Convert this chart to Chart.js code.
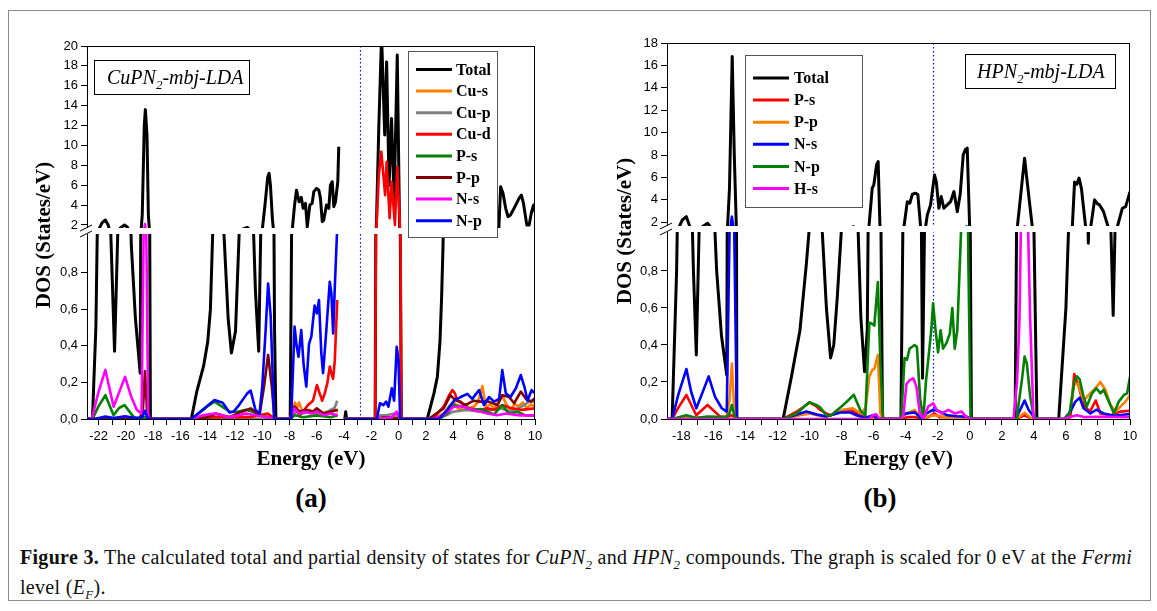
<!DOCTYPE html>
<html>
<head>
<meta charset="utf-8">
<script src="https://cdn.jsdelivr.net/npm/chart.js@4.4.1/dist/chart.umd.min.js"></script>
<style>
body { margin:0; background:#fff; width:1157px; height:611px; position:relative; overflow:hidden; }
#frame { position:absolute; left:8px; top:10px; width:1141px; height:589px; border:1px solid #8c8c8c; }
#wrapA { position:absolute; left:0; top:0; }
#wrapB { position:absolute; left:580px; top:0; }
.tag { position:absolute; top:483px; width:120px; text-align:center; font:bold 27px "Liberation Serif", serif; color:#000; }
#cap { position:absolute; left:20px; top:546px; font:20px "Liberation Serif", serif; letter-spacing:0.3px; line-height:22px; color:#111; white-space:nowrap; }
#cap sub { font-size:13px; }
</style>
</head>
<body>
<div id="frame"></div>
<div id="wrapA"><canvas id="dosA" width="580" height="480"></canvas></div>
<div id="wrapB"><canvas id="dosB" width="577" height="480"></canvas></div>
<div class="tag" style="left:251px">(a)</div>
<div class="tag" style="left:820px">(b)</div>
<div id="cap"><b>Figure 3.</b> The calculated total and partial density of states for <i>CuPN<sub>2</sub></i> and <i>HPN<sub>2</sub></i> compounds. The graph is scaled for 0 eV at the <i>Fermi</i><br>level (<i>E<sub>F</sub></i>).</div>
<script>
// ---- panel (a) CuPN2 : [energy eV, DOS] ----
const totalA = [[-22.85,0],[-22.45,0],[-22.2,0.5],[-22.0,1.5],[-21.75,2.2],[-21.5,2.5],[-21.3,2.0],[-21.1,1.0],[-20.83,0.37],[-20.6,1.0],[-20.4,1.7],[-20.1,2.0],[-19.9,1.8],[-19.6,0.95],[-19.3,0.55],[-18.95,0.25],[-18.8,3],[-18.65,12],[-18.57,13.6],[-18.45,11],[-18.35,3],[-18.2,0],[-15.2,0],[-14.8,0.15],[-14.3,0.29],[-14.0,0.42],[-13.8,0.6],[-13.6,1.1],[-13.2,1.3],[-12.8,1.0],[-12.5,0.55],[-12.26,0.36],[-11.96,0.48],[-11.7,1.0],[-11.4,1.6],[-11.1,1.75],[-10.8,1.4],[-10.5,0.7],[-10.26,0.37],[-10.0,1.5],[-9.8,4.0],[-9.6,6.8],[-9.5,7.2],[-9.4,6.0],[-9.25,2.5],[-9.1,0.5],[-9.0,0],[-7.95,0],[-7.8,1.5],[-7.63,4.0],[-7.49,5.5],[-7.3,4.33],[-7.14,4.78],[-7.0,3.67],[-6.83,4.17],[-6.7,1.8],[-6.51,4.0],[-6.34,4.17],[-6.22,5.34],[-6.02,5.68],[-5.85,5.5],[-5.73,4.67],[-5.6,2.33],[-5.49,2.5],[-5.29,4.0],[-5.12,3.67],[-5.0,6.0],[-4.87,6.35],[-4.75,3.84],[-4.63,4.33],[-4.46,6.35],[-4.39,9.87],[-4.3,null],[-3.95,0],[-3.88,0.04],[-3.82,0],[-1.72,0],[-1.63,2],[-1.45,12],[-1.25,21],[-1.02,11.05],[-0.88,18.4],[-0.7,6.0],[-0.52,12.7],[-0.33,4.33],[-0.1,19.1],[0.07,1.7],[0.2,0],[2.1,0],[2.59,0.14],[2.84,0.23],[3.03,0.42],[3.15,0.66],[3.25,0.93],[3.35,1.3],[3.6,2.5],[4.0,3.5],[4.5,4.2],[5.0,4.0],[5.5,4.5],[6.0,4.2],[6.5,3.8],[7.0,4.0],[7.35,1.7],[7.48,5.85],[7.65,5.2],[7.85,3.67],[8.02,2.83],[8.2,3.0],[8.46,3.67],[8.83,4.67],[9.0,5.0],[9.15,4.2],[9.4,2.0],[9.57,2.0],[9.75,3.34],[9.9,4.0],[10,3.3]];
const cuS = [[-22.85,0],[-19,0],[-18.6,0.01],[-18.2,0],[-15.2,0],[-13.5,0.01],[-11,0.01],[-9.6,0.02],[-9.0,0],[-7.95,0],[-7.75,0.06],[-7.6,0.09],[-7.45,0.06],[-7.3,0.09],[-7.1,0.05],[-6.8,0.04],[-6.5,0.05],[-6.2,0.03],[-5.9,0.05],[-5.6,0.03],[-5.3,0.04],[-5.0,0.03],[-4.7,0.05],[-4.46,0.04],[-4.4,null],[-3.95,0],[-1.75,0],[-1.2,0.01],[-0.5,0.01],[0.2,0],[2.5,0],[3.3,0.03],[3.7,0.07],[4.06,0.095],[4.3,0.06],[4.55,0.05],[4.9,0.08],[5.2,0.06],[5.5,0.067],[5.8,0.09],[6.14,0.18],[6.4,0.067],[6.7,0.08],[7.0,0.06],[7.3,0.09],[7.6,0.13],[7.9,0.08],[8.2,0.05],[8.5,0.08],[8.8,0.07],[9.1,0.09],[9.4,0.06],[9.7,0.08],[10,0.067]];
const cuP = [[-22.85,0],[-7.95,0],[-7.7,0.03],[-7.4,0.04],[-7.0,0.03],[-6.6,0.04],[-6.2,0.03],[-5.8,0.04],[-5.4,0.03],[-5.0,0.05],[-4.7,0.06],[-4.5,0.1],[-4.46,0.1],[-4.4,null],[-3.95,0],[-1.75,0],[-1.4,0.02],[-0.9,0.02],[-0.3,0.03],[0.2,0],[2.5,0],[3.5,0.02],[4.0,0.04],[5.0,0.05],[6.0,0.04],[6.8,0.05],[7.5,0.058],[8.2,0.04],[9.0,0.067],[9.7,0.10],[10,0.09]];
const cuD = [[-22.85,0],[-18.8,0],[-18.6,0.01],[-18.4,0],[-15.2,0],[-13.5,0.01],[-11,0.01],[-9.6,0.03],[-9.0,0],[-7.95,0],[-7.63,0.067],[-7.26,0.02],[-6.9,0.05],[-6.65,0.076],[-6.28,0.10],[-5.99,0.186],[-5.79,0.14],[-5.6,0.10],[-5.42,0.14],[-5.23,0.195],[-5.05,0.286],[-4.93,0.25],[-4.8,0.22],[-4.68,0.32],[-4.5,0.65],[-4.46,0.65],[-4.4,null],[-3.95,0],[-1.72,0],[-1.63,1.7],[-1.45,7],[-1.27,9.37],[-0.99,5.0],[-0.88,8.36],[-0.66,2.67],[-0.52,6.35],[-0.27,2.0],[-0.1,7.85],[0.1,1.7],[0.19,0],[2.2,0],[2.6,0.01],[3.3,0.067],[3.7,0.13],[3.94,0.158],[4.13,0.14],[4.3,0.10],[4.55,0.095],[5.04,0.058],[5.5,0.055],[6.0,0.05],[6.5,0.058],[7.0,0.05],[7.6,0.076],[8.2,0.06],[9.0,0.05],[10,0.058]];
const pSA = [[-22.85,0],[-22.45,0],[-22.0,0.07],[-21.5,0.13],[-20.9,0.02],[-20.5,0.06],[-20.1,0.076],[-19.45,0.013],[-19.0,0],[-18.6,0.01],[-18.2,0],[-15.2,0],[-14.5,0.04],[-14.0,0.07],[-13.5,0.095],[-13.0,0.07],[-12.4,0.04],[-11.8,0.04],[-11.2,0.05],[-10.7,0.04],[-10.2,0.02],[-9.6,0.01],[-9.0,0],[-7.95,0],[-7.6,0.02],[-7.0,0.01],[-6.0,0.02],[-5.0,0.01],[-4.46,0.02],[-4.4,null],[-3.95,0],[-1.75,0],[-0.5,0.01],[0.2,0],[2.6,0],[3.2,0.01],[3.57,0.03],[4.06,0.076],[4.8,0.067],[5.5,0.05],[6.0,0.055],[6.5,0.04],[7.0,0.025],[7.6,0.076],[8.1,0.03],[8.7,0.04],[9.3,0.02],[10,0.02]];
const pPA = [[-22.85,0],[-19,0],[-18.75,0.05],[-18.6,0.26],[-18.45,0.05],[-18.2,0],[-15.2,0],[-14.0,0.01],[-13.4,0.03],[-12.4,0.01],[-11.5,0.04],[-10.85,0.058],[-10.2,0.02],[-9.87,0.177],[-9.57,0.35],[-9.3,0.177],[-9.1,0],[-7.95,0],[-7.63,0.067],[-7.26,0.04],[-6.8,0.05],[-6.3,0.04],[-6.0,0.058],[-5.5,0.03],[-5.0,0.04],[-4.46,0.05],[-4.4,null],[-3.95,0],[-1.75,0],[-1.0,0.01],[0.2,0],[2.2,0],[3.3,0.058],[3.8,0.13],[4.06,0.11],[4.43,0.095],[4.9,0.076],[5.5,0.10],[6.0,0.095],[6.6,0.095],[7.25,0.076],[7.6,0.13],[8.1,0.12],[8.47,0.086],[8.96,0.15],[9.33,0.11],[9.7,0.095],[10,0.113]];
const nSA = [[-22.85,0],[-22.5,0],[-22.0,0.15],[-21.5,0.268],[-20.9,0.067],[-20.06,0.23],[-19.6,0.12],[-19.2,0.05],[-18.85,0.03],[-18.7,1.0],[-18.6,2.1],[-18.5,1.0],[-18.36,0],[-15.2,0],[-14.35,0.02],[-13.5,0.03],[-12.4,0.01],[-11.2,0.03],[-10.5,0.02],[-9.6,0.01],[-9.0,0],[-7.95,0],[-7.63,0.058],[-7.3,0.03],[-6.9,0.04],[-6.4,0.03],[-6.0,0.04],[-5.5,0.02],[-5.0,0.03],[-4.46,0.02],[-4.4,null],[-3.95,0],[-1.75,0],[-0.5,0.01],[-0.14,0.04],[0.1,0],[2.5,0],[3.3,0.02],[3.57,0.04],[4.06,0.067],[4.55,0.07],[5.5,0.05],[6.5,0.03],[7.2,0.02],[7.9,0.03],[8.9,0.02],[10,0.02]];
const nPA = [[-22.85,0],[-22.3,0],[-21.5,0.013],[-20.9,0.005],[-20.06,0.015],[-19.3,0.005],[-18.8,0.01],[-18.6,0.045],[-18.4,0.005],[-18.2,0],[-15.2,0],[-14.1,0.067],[-13.5,0.104],[-12.9,0.089],[-12.4,0.035],[-12.1,0.04],[-11.7,0.076],[-11.1,0.14],[-10.85,0.155],[-10.5,0.05],[-10.2,0.03],[-10.0,0.177],[-9.74,0.5],[-9.57,0.74],[-9.38,0.56],[-9.13,0],[-7.88,0],[-7.63,0.505],[-7.48,0.40],[-7.34,0.34],[-7.14,0.486],[-6.97,0.30],[-6.77,0.177],[-6.57,0.41],[-6.4,0.45],[-6.16,0.62],[-5.99,0.577],[-5.84,0.65],[-5.67,0.36],[-5.54,0.25],[-5.3,0.486],[-5.05,0.75],[-4.93,0.687],[-4.8,0.468],[-4.68,0.72],[-4.5,1.05],[-4.46,1.2],[-4.4,null],[-3.95,0],[-1.6,0],[-1.37,0.086],[-1.12,0.076],[-0.92,0.095],[-0.75,0.067],[-0.5,0.168],[-0.33,0.10],[-0.14,0.395],[-0.01,0.32],[0.11,0],[2.9,0],[3.08,0.01],[3.57,0.05],[4.06,0.10],[4.55,0.12],[5.04,0.137],[5.4,0.11],[5.9,0.158],[6.26,0.076],[6.63,0.12],[7.0,0.095],[7.37,0.11],[7.6,0.267],[7.86,0.14],[8.2,0.12],[8.6,0.168],[8.96,0.24],[9.25,0.168],[9.45,0.10],[9.75,0.158],[10,0.14]];
const namesA = ['Total', 'Cu-s', 'Cu-p', 'Cu-d', 'P-s', 'P-p', 'N-s', 'N-p'];
const colorsA = ['#000000', '#ff8000', '#808080', '#ff0000', '#008000', '#800000', '#ff00ff', '#0000ff'];
const fermiA = -2.8;
const xLabelsA = [-22, -20, -18, -16, -14, -12, -10, -8, -6, -4, -2, 0, 2, 4, 6, 8, 10];
const yUpperA = [2, 4, 6, 8, 10, 12, 14, 16, 18, 20];

// ---- panel (b) HPN2 ----
const totalB = [[-18.9,0],[-18.58,0],[-18.3,0.8],[-18.17,1.5],[-17.95,2.2],[-17.69,2.5],[-17.45,1.5],[-17.25,0.8],[-17.07,0.346],[-16.9,1.0],[-16.7,1.6],[-16.36,1.91],[-16.1,1.4],[-15.8,0.8],[-15.5,0.45],[-15.17,0.238],[-15.0,5],[-14.83,16.8],[-14.7,8],[-14.54,0],[-11.65,0],[-11.13,0.23],[-10.6,0.48],[-10.2,0.84],[-10.0,1.05],[-9.6,1.3],[-9.2,1.0],[-8.95,0.6],[-8.69,0.33],[-8.49,0.4],[-8.27,0.66],[-7.96,1.1],[-7.5,1.45],[-7.24,1.6],[-7.0,1.1],[-6.8,0.55],[-6.57,0.256],[-6.4,0.48],[-6.3,1.5],[-6.09,5.04],[-5.99,5.34],[-5.82,7.12],[-5.72,7.42],[-5.61,1.76],[-5.45,0],[-4.3,0],[-4.11,1.6],[-3.9,3.84],[-3.74,3.7],[-3.59,4.5],[-3.38,4.6],[-3.24,4.45],[-3.07,1.6],[-2.95,0.22],[-2.8,1.2],[-2.65,2.66],[-2.45,3.55],[-2.2,6.23],[-2.09,5.6],[-1.93,3.25],[-1.78,4.3],[-1.62,3.25],[-1.41,3.55],[-1.2,3.84],[-0.99,4.74],[-0.78,2.95],[-0.6,4.5],[-0.41,8.02],[-0.27,8.5],[-0.16,8.62],[-0.01,1.6],[0.1,0],[2.83,0],[2.97,1.6],[3.22,5.0],[3.42,7.72],[3.63,5.0],[3.9,1.6],[4.19,0],[5.55,0],[6.0,0.6],[6.27,1.3],[6.4,1.6],[6.54,5.6],[6.68,5.4],[6.82,5.94],[6.97,5.0],[7.23,1.6],[7.4,0.95],[7.55,1.6],[7.79,4.0],[7.96,3.66],[8.1,3.55],[8.35,2.95],[8.63,1.6],[8.95,0.56],[9.21,1.6],[9.52,3.25],[9.73,3.4],[10,4.74]];
const pSB = [[-18.9,0],[-18.58,0],[-18.2,0.06],[-17.69,0.13],[-17.07,0.02],[-16.37,0.076],[-15.58,0.013],[-15.2,0.01],[-14.85,0.02],[-14.54,0],[-11.65,0],[-10.8,0.04],[-10.3,0.07],[-10.0,0.09],[-9.6,0.07],[-9.34,0.049],[-8.96,0.03],[-8.69,0.02],[-8.07,0.04],[-7.45,0.05],[-6.93,0.025],[-6.6,0.01],[-6.0,0.01],[-5.5,0],[-4.3,0],[-3.9,0.01],[-3.4,0.01],[-3.0,0],[-2.6,0.01],[-2.2,0.03],[-1.9,0.01],[-1.3,0.01],[-0.5,0.01],[0.1,0],[2.9,0],[3.4,0.02],[3.9,0],[5.9,0],[6.28,0.01],[6.52,0.243],[6.8,0.175],[7.1,0.076],[7.5,0.04],[7.86,0.10],[8.15,0.03],[8.78,0.02],[9.4,0.04],[10,0.045]];
const pPB = [[-18.9,0],[-18.58,0],[-17.69,0.01],[-16.4,0.008],[-15.2,0.01],[-15.0,0.1],[-14.85,0.30],[-14.7,0.05],[-14.54,0],[-11.65,0],[-10.6,0.02],[-10.0,0.03],[-9.0,0.01],[-7.92,0.05],[-7.3,0.058],[-6.82,0.03],[-6.5,0.06],[-6.27,0.23],[-6.09,0.265],[-5.96,0.27],[-5.74,0.346],[-5.58,0.03],[-5.45,0],[-4.3,0],[-4.0,0.03],[-3.7,0.04],[-3.43,0.049],[-3.1,0.01],[-2.9,0],[-2.6,0.015],[-2.2,0.02],[-1.5,0.01],[-0.5,0.01],[0.1,0],[2.9,0],[3.42,0.034],[3.9,0],[5.9,0],[6.23,0.03],[6.52,0.19],[6.75,0.19],[7.1,0.10],[7.53,0.14],[7.84,0.166],[8.15,0.2],[8.47,0.157],[8.78,0.076],[9.1,0.04],[9.4,0.067],[9.72,0.094],[10,0.13]];
const nSB = [[-18.9,0],[-18.58,0],[-18.2,0.13],[-17.69,0.27],[-17.4,0.15],[-17.07,0.058],[-16.7,0.14],[-16.3,0.23],[-15.9,0.12],[-15.48,0.058],[-15.17,0.04],[-15.0,1.0],[-14.85,2.5],[-14.7,1.0],[-14.54,0],[-11.65,0],[-10.6,0.03],[-10.2,0.04],[-9.58,0.025],[-8.96,0.013],[-8.07,0.035],[-7.45,0.035],[-7.08,0.02],[-6.5,0.005],[-6.05,0.02],[-5.85,0.01],[-5.5,0],[-4.3,0],[-4.27,0.02],[-3.95,0.03],[-3.43,0.036],[-3.0,0],[-2.7,0.03],[-2.28,0.05],[-1.87,0.04],[-1.4,0.02],[-0.8,0.015],[-0.2,0.013],[0.1,0],[2.9,0],[2.94,0.013],[3.42,0.10],[3.67,0.05],[3.98,0.013],[4.2,0],[5.9,0],[6.28,0.04],[6.59,0.094],[6.86,0.115],[7.1,0.058],[7.53,0.03],[7.9,0.05],[8.36,0.03],[9.0,0.018],[10,0.027]];
const nPB = [[-18.9,0],[-18.58,0],[-17.69,0.02],[-17.07,0.005],[-16.37,0.013],[-15.2,0.01],[-15.0,0.03],[-14.85,0.076],[-14.7,0.02],[-14.54,0],[-11.65,0],[-10.8,0.03],[-10.3,0.07],[-10.0,0.09],[-9.58,0.076],[-9.34,0.063],[-8.96,0.02],[-8.69,0.018],[-8.07,0.063],[-7.6,0.1],[-7.24,0.131],[-6.82,0.045],[-6.52,0.018],[-6.27,0.52],[-6.1,0.515],[-5.96,0.505],[-5.74,0.74],[-5.58,0.30],[-5.41,0],[-4.28,0],[-4.07,0.33],[-3.92,0.32],[-3.76,0.38],[-3.45,0.40],[-3.3,0.39],[-3.1,0.11],[-2.9,0.0],[-2.74,0.2],[-2.57,0.34],[-2.4,0.485],[-2.29,0.625],[-2.15,0.49],[-1.98,0.36],[-1.82,0.48],[-1.67,0.38],[-1.46,0.41],[-1.25,0.46],[-1.09,0.6],[-0.94,0.38],[-0.78,0.48],[-0.53,1.05],[-0.35,1.5],[-0.2,1.65],[-0.08,0.8],[0.05,0],[2.9,0],[2.94,0.013],[3.25,0.21],[3.42,0.337],[3.56,0.30],[3.77,0.12],[3.98,0.02],[4.2,0],[5.9,0],[6.23,0.03],[6.52,0.2],[6.69,0.23],[6.86,0.214],[7.1,0.12],[7.3,0.067],[7.63,0.139],[7.9,0.166],[8.15,0.139],[8.36,0.157],[8.68,0.094],[9.0,0.03],[9.3,0.094],[9.62,0.13],[9.82,0.139],[10,0.229]];
const hSB = [[-18.9,0],[-6.3,0],[-6.06,0.02],[-5.85,0.025],[-5.6,0],[-4.3,0],[-4.15,0.02],[-3.95,0.19],[-3.75,0.21],[-3.53,0.22],[-3.33,0.175],[-3.12,0.03],[-2.9,0],[-2.6,0.067],[-2.28,0.085],[-2.07,0.049],[-1.76,0.03],[-1.34,0.049],[-0.93,0.03],[-0.51,0.04],[-0.2,0.01],[0.0,0],[2.73,0],[2.95,0.2],[3.1,0.535],[3.2,1.1],[3.42,1.65],[3.62,1.1],[3.77,0.535],[3.98,0],[5.9,0],[6.2,0.01],[6.69,0.02],[7.2,0.01],[8.0,0.012],[10,0.01]];
const namesB = ['Total', 'P-s', 'P-p', 'N-s', 'N-p', 'H-s'];
const colorsB = ['#000000', '#ff0000', '#ff8000', '#0000ff', '#008000', '#ff00ff'];
const fermiB = -2.3;
const xLabelsB = [-18, -16, -14, -12, -10, -8, -6, -4, -2, 0, 2, 4, 6, 8, 10];
const yUpperB = [2, 4, 6, 8, 10, 12, 14, 16, 18];

const yLower = [0, 0.2, 0.4, 0.6, 0.8];

Chart.defaults.font.family = "'Liberation Sans', Arial, sans-serif";
Chart.defaults.color = '#000';

// draws everything Origin puts round the plot: break, frame, legend, label box, titles
const decor = {
  id: 'decor',
  beforeDatasetsDraw(chart, args, o) {
    const { ctx, chartArea: a, scales } = chart;
    const px = Math.round(scales.x.getPixelForValue(o.fermi)) + 0.5;
    ctx.save();
    ctx.strokeStyle = '#0000ff';
    ctx.lineWidth = 1.2;
    ctx.setLineDash([1.5, 2.5]);
    ctx.beginPath();
    ctx.moveTo(px, a.top);
    ctx.lineTo(px, a.bottom);
    ctx.stroke();
    ctx.restore();
  },
  afterDatasetsDraw(chart, args, o) {
    const { ctx, chartArea: a, scales } = chart;
    const yb = scales.hi.bottom;
    ctx.save();
    // gap of the broken axis
    ctx.fillStyle = '#fff';
    ctx.fillRect(a.left - 3, yb - 3, a.right - a.left + 2, 6);
    // top and right frame
    ctx.strokeStyle = '#000';
    ctx.lineWidth = 1;
    ctx.beginPath();
    ctx.moveTo(a.left, a.top + 0.5);
    ctx.lineTo(a.right, a.top + 0.5);
    ctx.moveTo(a.right - 0.5, a.top);
    ctx.lineTo(a.right - 0.5, a.bottom);
    ctx.stroke();
    // break marks
    ctx.beginPath();
    [-3, 3].forEach(d => {
      ctx.moveTo(a.left - 7, yb + d + 3);
      ctx.lineTo(a.left + 5, yb + d - 3);
    });
    ctx.stroke();

    // legend box
    const L = o.legend;
    ctx.fillStyle = '#fff';
    ctx.fillRect(L.x, L.y, L.w, L.h);
    ctx.strokeStyle = '#555';
    ctx.strokeRect(L.x + 0.5, L.y + 0.5, L.w, L.h);
    ctx.font = 'bold 16px "Liberation Serif", serif';
    ctx.textBaseline = 'middle';
    ctx.textAlign = 'left';
    o.names.forEach((n, i) => {
      const y = L.row0 + i * L.step;
      ctx.strokeStyle = o.colors[i];
      ctx.lineWidth = 3;
      ctx.beginPath();
      ctx.moveTo(L.x + 8, y);
      ctx.lineTo(L.x + 44, y);
      ctx.stroke();
      ctx.fillStyle = '#000';
      ctx.fillText(n, L.x + L.tx, y + 1);
    });

    // compound label box
    const B = o.tagBox;
    ctx.fillStyle = '#fff';
    ctx.fillRect(B.x, B.y, B.w, B.h);
    ctx.lineWidth = 1;
    ctx.strokeStyle = '#000';
    ctx.strokeRect(B.x + 0.5, B.y + 0.5, B.w, B.h);
    ctx.fillStyle = '#000';
    ctx.textBaseline = 'alphabetic';
    ctx.font = 'italic 20px "Liberation Serif", serif';
    let tx = B.tx;
    ctx.fillText(o.tag[0], tx, B.base);
    tx += ctx.measureText(o.tag[0]).width;
    ctx.font = 'italic 13px "Liberation Serif", serif';
    ctx.fillText('2', tx, B.base + 5);
    tx += ctx.measureText('2').width;
    ctx.font = 'italic 20px "Liberation Serif", serif';
    ctx.fillText(o.tag[1], tx, B.base);

    // axis titles
    ctx.font = 'bold 21px "Liberation Serif", serif';
    ctx.textAlign = 'center';
    ctx.textBaseline = 'middle';
    ctx.fillText('Energy (eV)', (a.left + a.right) / 2, 460);
    ctx.translate(o.yTitleX, o.yTitleY);
    ctx.rotate(-Math.PI / 2);
    ctx.fillText('DOS (States/eV)', 0, 0);
    ctx.restore();
  }
};

function ticksFrom(labels, min, max) {
  const out = [];
  labels.forEach(v => {
    out.push(v);
    if (v + 1 <= max) out.push(v + 1);
  });
  return out.filter(v => v >= min).map(v => ({ value: v }));
}

function makeChart(id, series, names, colors, p) {
  const datasets = [];
  series.forEach((d, i) => {
    ['lo', 'hi'].forEach(ax => datasets.push({
      label: names[i],
      data: d,
      yAxisID: ax,
      borderColor: colors[i],
      borderWidth: i === 0 ? 3 : 2.6,
      borderJoinStyle: 'round',
      pointRadius: 0,
      tension: 0,
      spanGaps: false,
      order: -i
    }));
  });
  const tickFont = { size: 13 };
  const grid = { drawOnChartArea: false, tickLength: 6, color: '#000' };
  const border = { color: '#000', width: 1 };
  return new Chart(document.getElementById(id), {
    type: 'line',
    data: { datasets },
    options: {
      responsive: false,
      animation: false,
      events: [],
      layout: { padding: { top: p.top, right: p.right, left: 0, bottom: 0 } },
      plugins: {
        legend: { display: false },
        tooltip: { enabled: false },
        decor: p.decor
      },
      scales: {
        x: {
          type: 'linear', min: p.xmin, max: 10,
          afterBuildTicks: s => { s.ticks = ticksFrom(p.xLabels, p.xmin, 10); },
          afterFit: s => { s.height = 61; },
          ticks: { font: tickFont, maxRotation: 0, autoSkip: false, padding: 4,
            callback: v => p.xLabels.includes(v) ? String(v) : '' },
          grid, border
        },
        lo: {
          type: 'linear', position: 'left', stack: 'dos', stackWeight: p.wLo,
          min: 0, max: p.loMax,
          afterBuildTicks: s => { s.ticks = yLower.map(v => ({ value: v })); },
          afterFit: s => { s.width = 87; },
          ticks: { font: tickFont, padding: 3, autoSkip: false, callback: v => v.toFixed(1).replace('.', ',') },
          grid, border
        },
        hi: {
          type: 'linear', position: 'left', stack: 'dos', stackWeight: p.wHi,
          min: p.hiMin, max: p.hiMax,
          afterBuildTicks: s => { s.ticks = p.yUpper.map(v => ({ value: v })); },
          afterFit: s => { s.width = 87; },
          ticks: { font: tickFont, padding: 3, autoSkip: false, callback: v => String(v) },
          grid, border
        }
      }
    },
    plugins: [decor]
  });
}

makeChart('dosA', [totalA, cuS, cuP, cuD, pSA, pPA, nSA, nPA], namesA, colorsA, {
  top: 46, right: 45, xmin: -22.85, xLabels: xLabelsA,
  hiMin: 1.39, hiMax: 20, loMax: 1.027, wHi: 185, wLo: 188, yUpper: yUpperA,
  decor: {
    fermi: fermiA, names: namesA, colors: colorsA,
    legend: { x: 408, y: 51, w: 89, h: 186, row0: 69.5, step: 21.6, tx: 48 },
    tagBox: { x: 94, y: 60, w: 155, h: 34, tx: 107, base: 84 },
    tag: ['CuPN', '-mbj-LDA'],
    yTitleX: 45, yTitleY: 235
  }
});

makeChart('dosB', [totalB, pSB, pPB, nSB, nPB, hSB], namesB, colorsB, {
  top: 43, right: 27, xmin: -18.9, xLabels: xLabelsB,
  hiMin: 1.4, hiMax: 18, loMax: 1.027, wHi: 186, wLo: 190, yUpper: yUpperB,
  decor: {
    fermi: fermiB, names: namesB, colors: colorsB,
    legend: { x: 165, y: 55, w: 117, h: 152, row0: 78, step: 22.1, tx: 49 },
    tagBox: { x: 385, y: 54, w: 150, h: 34, tx: 397, base: 78 },
    tag: ['HPN', '-mbj-LDA'],
    yTitleX: 46, yTitleY: 231
  }
});
</script>
</body>
</html>
